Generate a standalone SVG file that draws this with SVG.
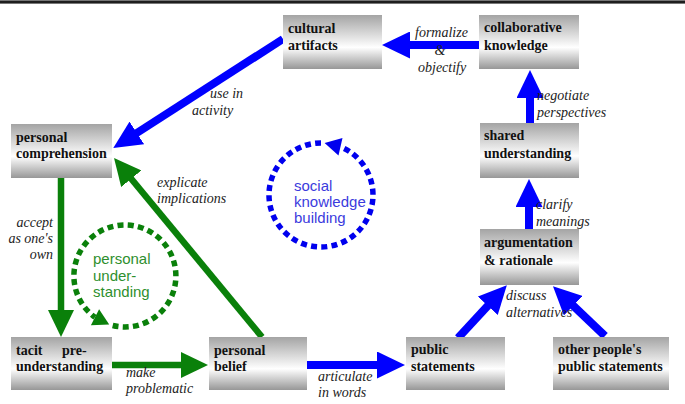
<svg xmlns="http://www.w3.org/2000/svg" width="685" height="404" viewBox="0 0 685 404">
<style>
.box{fill:url(#g);}
.bt{font-family:"Liberation Serif","Times New Roman",serif;font-weight:bold;font-size:14px;fill:#111;}
.lb{font-family:"Liberation Serif","Times New Roman",serif;font-style:italic;font-size:14px;fill:#222;}
.blue{stroke:#0000ff;stroke-width:8;fill:none;}
.green{stroke:#0a800a;stroke-width:6.5;fill:none;}
.ct{font-family:"Liberation Sans",Arial,sans-serif;font-size:15px;}
</style>
<defs>
<linearGradient id="g" x1="0" y1="0" x2="0" y2="1">
<stop offset="0" stop-color="#a4a4a4"/>
<stop offset="0.6" stop-color="#ffffff"/>
<stop offset="1" stop-color="#979797"/>
</linearGradient>
<marker id="hb" markerUnits="userSpaceOnUse" markerWidth="28" markerHeight="27" refX="1" refY="13.5" orient="auto">
<path d="M0,0 L28,13.5 L0,27 z" fill="#0000ff"/>
</marker>
<marker id="hg" markerUnits="userSpaceOnUse" markerWidth="27" markerHeight="26" refX="1" refY="13" orient="auto">
<path d="M0,0 L27,13 L0,26 z" fill="#0a800a"/>
</marker>
</defs>
<rect x="0" y="0" width="685" height="404" fill="#fff"/>
<rect x="0" y="0" width="685" height="4" fill="#777"/>
<line x1="0" y1="2" x2="685" y2="2" stroke="#000" stroke-width="1.6"/>

<g id="connectors">
<line class="blue" x1="479" y1="45" x2="409" y2="45" marker-end="url(#hb)"/>
<line class="blue" x1="283" y1="39" x2="136" y2="133.5" marker-end="url(#hb)"/>
<line class="blue" x1="530" y1="123" x2="530" y2="97" marker-end="url(#hb)"/>
<line class="blue" x1="529" y1="229" x2="529" y2="206" marker-end="url(#hb)"/>
<line class="blue" x1="458" y1="338" x2="488.5" y2="305" marker-end="url(#hb)"/>
<line class="blue" x1="605" y1="336" x2="572.5" y2="305" marker-end="url(#hb)"/>
<line class="blue" x1="307" y1="365" x2="378" y2="365" marker-end="url(#hb)"/>
<line class="green" x1="61" y1="178" x2="61" y2="311" marker-end="url(#hg)"/>
<line class="green" x1="112" y1="365" x2="182" y2="365" marker-end="url(#hg)"/>
<line class="green" x1="262" y1="337" x2="130.6" y2="178" marker-end="url(#hg)"/>

<path d="M112.7,325.5 A51,51 0 1 0 95,317.3" fill="none" stroke="#0a800a" stroke-width="5.5" stroke-dasharray="6 4.2"/>
<polygon points="109.2,324.5 90.9,325.3 99.1,309.3" fill="#0a800a"/>
<path d="M321,143 A52,52 0 1 0 340.5,146.8" fill="none" stroke="#0000ee" stroke-width="5.5" stroke-dasharray="6 4.2"/>
<polygon points="324.6,143.1 342.5,138 338.5,155.6" fill="#0000ee"/>

<text class="lb" x="415" y="37">formalize</text>
<text class="lb" x="440" y="55" text-anchor="middle">&amp;</text>
<text class="lb" x="418" y="72">objectify</text>
<text class="lb" x="210" y="98">use in</text>
<text class="lb" x="192" y="115">activity</text>
<text class="lb" x="537" y="100">negotiate</text>
<text class="lb" x="537" y="117">perspectives</text>
<text class="lb" x="536" y="209">clarify</text>
<text class="lb" x="536" y="226">meanings</text>
<text class="lb" x="157" y="187">explicate</text>
<text class="lb" x="157" y="203">implications</text>
<text class="lb" x="53" y="227" text-anchor="end">accept</text>
<text class="lb" x="53" y="243" text-anchor="end">as one's</text>
<text class="lb" x="53" y="259" text-anchor="end">own</text>
<text class="lb" x="126" y="377">make</text>
<text class="lb" x="126" y="393">problematic</text>
<text class="lb" x="318" y="381">articulate</text>
<text class="lb" x="318" y="397">in words</text>
<text class="lb" x="506" y="300">discuss</text>
<text class="lb" x="506" y="317">alternatives</text>

<text class="ct" x="93" y="264" fill="#2e8f2e">personal</text>
<text class="ct" x="93" y="281" fill="#2e8f2e">under-</text>
<text class="ct" x="93" y="297" fill="#2e8f2e">standing</text>
<text class="ct" x="294" y="191" fill="#3b3bdd">social</text>
<text class="ct" x="294" y="207" fill="#3b3bdd">knowledge</text>
<text class="ct" x="294" y="223" fill="#3b3bdd">building</text>
</g>

<g id="cultural-artifacts">
<rect class="box" x="283" y="15" width="99" height="54"/>
<text class="bt" x="288" y="33">cultural</text>
<text class="bt" x="288" y="50">artifacts</text>
</g>
<g id="collaborative-knowledge">
<rect class="box" x="479" y="15" width="100" height="54"/>
<text class="bt" x="484" y="32">collaborative</text>
<text class="bt" x="484" y="50">knowledge</text>
</g>
<g id="personal-comprehension">
<rect class="box" x="11" y="124" width="101" height="54"/>
<text class="bt" x="16" y="142">personal</text>
<text class="bt" x="16" y="158">comprehension</text>
</g>
<g id="shared-understanding">
<rect class="box" x="480" y="123" width="99" height="55"/>
<text class="bt" x="484" y="140">shared</text>
<text class="bt" x="484" y="158">understanding</text>
</g>
<g id="argumentation">
<rect class="box" x="480" y="229" width="99" height="56"/>
<text class="bt" x="484" y="247">argumentation</text>
<text class="bt" x="484" y="265">&amp; rationale</text>
</g>
<g id="tacit-preunderstanding">
<rect class="box" x="11" y="337" width="101" height="53"/>
<text class="bt" x="16" y="355">tacit</text>
<text class="bt" x="62" y="355">pre-</text>
<text class="bt" x="16" y="371">understanding</text>
</g>
<g id="personal-belief">
<rect class="box" x="209" y="337" width="98" height="53"/>
<text class="bt" x="214" y="355">personal</text>
<text class="bt" x="214" y="371">belief</text>
</g>
<g id="public-statements">
<rect class="box" x="406" y="337" width="99" height="53"/>
<text class="bt" x="411" y="354">public</text>
<text class="bt" x="411" y="371">statements</text>
</g>
<g id="other-statements">
<rect class="box" x="553" y="337" width="116" height="53"/>
<text class="bt" x="558" y="354">other people's</text>
<text class="bt" x="558" y="371">public statements</text>
</g>
</svg>
